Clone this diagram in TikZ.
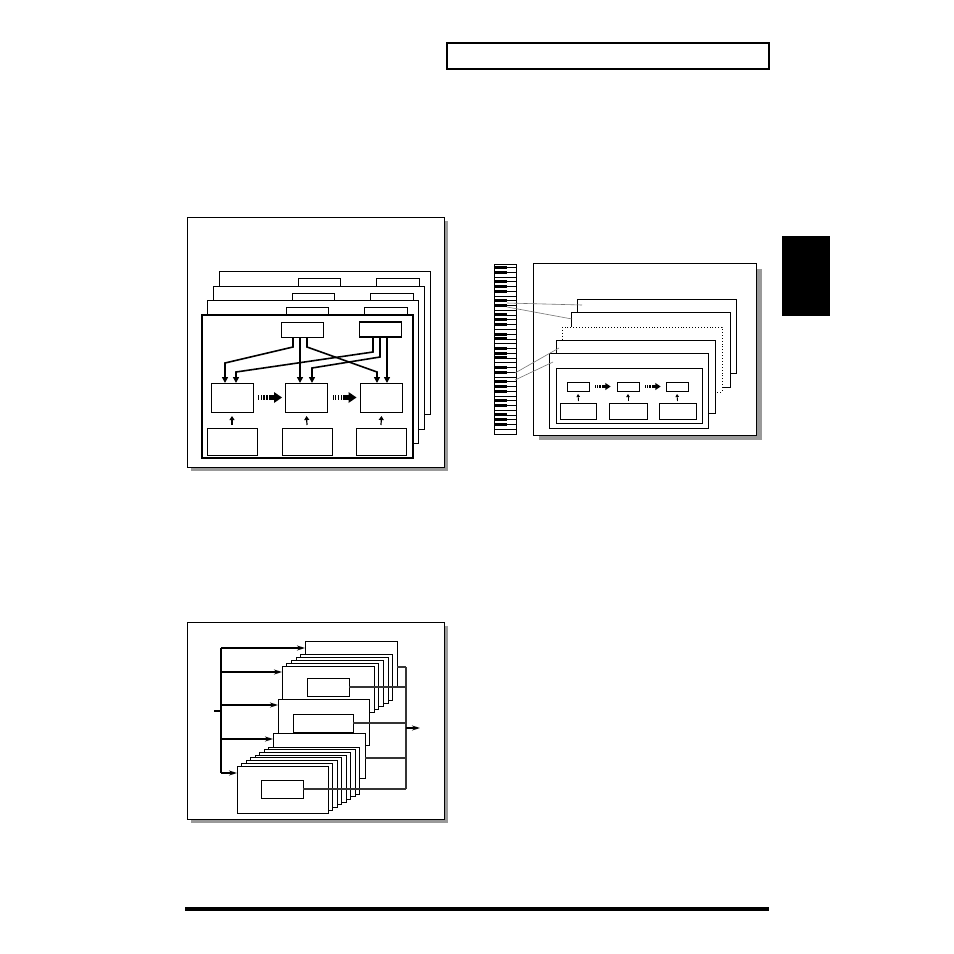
\documentclass[tikz,border=0pt]{standalone}
\usetikzlibrary{calc,arrows.meta}

\begin{document}
\begin{tikzpicture}[x=1pt,y=-1pt,>=stealth,
  frame/.style={draw,line width=0.9pt,fill=white},
  shade/.style={fill=black!40},
  blk/.style={draw,fill=white,line width=0.9pt,inner sep=0pt,outer sep=0pt},
  feed/.style={line width=1.6pt,-{Triangle[length=6pt,width=6pt]}},
  push/.style={line width=1.8pt,-{Stealth[length=8pt,width=5pt]}},
  uparr/.style={line width=1.2pt,-{Triangle[length=4pt,width=5pt]}},
  tick/.style={line width=0.9pt,-{Triangle[length=3pt,width=3.5pt]}},
  bus/.style={line width=1.8pt},
  tap/.style={black!80,line width=1.4pt},
  wire/.style={black!55,line width=0.6pt},
  drop/.style={preaction={fill=black,transform canvas={shift={(1.2pt,-1.2pt)}}}},
  pics/stripe/.style={code={
    \foreach \x/\w in {0/0.7,2.7/1,5.4/1.3,8.1/1.7,10.8/2.2}
      \fill (\x,-2.8) rectangle ++(\w,5.6);
    \fill (13,-2.8) rectangle (16.5,2.8);
    \fill (16,-5.5) -- (24,0) -- (16,5.5) -- cycle;}}]
\useasboundingbox (0,0) rectangle (954,954);

% page marks
\draw[line width=2.4pt] (447,43) rectangle (769,69);
\fill (782,236) rectangle (830,316);
\fill (185,907) rectangle (769,911);

% ---- upper left: stacked layers
\fill[shade] (191,221) rectangle (448,471);
\draw[frame] (187,217) rectangle (444,467);
\foreach \k in {3,2,1}{
  \begin{scope}[shift={({5.7*\k},{-14.5*\k})}]
    \draw[frame] (202,315) rectangle (413,458);
    \draw[frame] (281,322) rectangle (323,337);
    \draw[frame] (359,322) rectangle (402,337);
  \end{scope}}
\draw[frame,line width=1.1pt] (202,315) rectangle (413,458);
\node[blk,minimum width=42,minimum height=15] (s1) at (302,329.5) {};
\node[blk,minimum width=42,minimum height=15,line width=1.3pt] (s2) at (380.5,329.5) {};
\node[blk,minimum width=42,minimum height=29] (A) at (232,397.5) {};
\node[blk,minimum width=42,minimum height=29] (B) at (306.5,397.5) {};
\node[blk,minimum width=42,minimum height=29] (C) at (381.5,397.5) {};
\node[blk,minimum width=50,minimum height=27] (a) at (232,441.5) {};
\node[blk,minimum width=50,minimum height=27] (b) at (307,441.5) {};
\node[blk,minimum width=50,minimum height=27] (c) at (381,441.5) {};
\draw[feed] ($(s1.south)+(-9,0)$) -- ++(0,10) -- ($(A.north)+(-7,-20)$) -- ($(A.north)+(-7,0)$);
\draw[feed] ($(s1.south)+(-2,0)$) -- ($(B.north)+(-6.5,0)$);
\draw[feed] ($(s1.south)+(5,0)$) -- ++(0,10) -- ($(C.north)+(-4.5,-11)$) -- ($(C.north)+(-4.5,0)$);
\draw[feed] ($(s2.south)+(-7.5,0)$) -- ++(0,15) -- ($(A.north)+(4,-11)$) -- ($(A.north)+(4,0)$);
\draw[feed] ($(s2.south)+(-0.5,0)$) -- ++(0,20) -- ($(B.north)+(5.5,-15)$) -- ($(B.north)+(5.5,0)$);
\draw[feed] ($(s2.south)+(6.5,0)$) -- ($(C.north)+(5.5,0)$);
\pic at ($(A.east)+(5,0)$) {stripe};
\pic at ($(B.east)+(5,0)$) {stripe};
\draw[uparr] ($(a.north)+(0,-3)$) -- ($(A.south)+(0,4)$);
\draw[uparr] ($(b.north)+(0,-3)$) -- ($(B.south)+(0,4)$);
\draw[uparr] ($(c.north)+(0,-3)$) -- ($(C.south)+(0,4)$);

% ---- lower left: groups on a bus
\fill[shade] (191,626) rectangle (448,823);
\draw[frame] (187,622) rectangle (444,819);
\node[blk,minimum width=92,minimum height=46,anchor=north west] (g1top) at (305,641) {};
\foreach \k in {4,3,2,1}
  \draw[frame] ({282+4.7*\k},{666-3*\k}) rectangle ++(92,46);
\node[blk,minimum width=92,minimum height=46,anchor=north west] (g1) at (282,666) {};
\node[blk,minimum width=42,minimum height=18,anchor=north west] (g1in) at (307,678) {};
\node[blk,minimum width=91,minimum height=46,anchor=north west] (g2) at (278,699) {};
\node[blk,minimum width=60,minimum height=18,anchor=north west] (g2in) at (293,714) {};
\node[blk,minimum width=92,minimum height=45,anchor=north west] (g3top) at (273,733) {};
\foreach \k in {7,6,...,1}
  \draw[frame] ({237+4.5*\k},{766-2.7*\k}) rectangle ++(91,47);
\node[blk,minimum width=91,minimum height=47,anchor=north west] (g3) at (237,766) {};
\node[blk,minimum width=42,minimum height=18,anchor=north west] (g3in) at (261,780) {};
\coordinate (in) at (214,711);
\coordinate (t1) at (221,648);
\coordinate (t2) at (221,672);
\coordinate (t3) at (221,705);
\coordinate (t4) at (221,739);
\coordinate (t5) at (221,773);
\draw[bus] (t1) -- (t5);
\draw[bus] (in) -- (in -| t1);
\draw[push] (t1) -- (t1 -| g1top.west);
\draw[push] (t2) -- (t2 -| g1.west);
\draw[push] (t3) -- (t3 -| g2.west);
\draw[push] (t4) -- (t4 -| g3top.west);
\draw[push] (t5) -- (t5 -| g3.west);
\coordinate (o1) at (406,667);
\coordinate (o4) at (406,758);
\coordinate (o5) at (406,789);
\coordinate (out) at (406,728);
\draw[tap] (o1 -| g1top.east) -- (o1);
\draw[tap] (g1in.east) -- (g1in.east -| o1);
\draw[tap] (g2in.east) -- (g2in.east -| o1);
\draw[tap] (o4 -| g3top.east) -- (o4);
\draw[tap] (g3in.east) -- (g3in.east -| o1);
\draw[tap] (o1) -- (o5);
\draw[push,line width=1.3pt] (out) -- ++(14,0);

% ---- right: keyboard and layers
\fill[shade] (539,269) rectangle (762,440);
\draw[frame] (533,263) rectangle (756,435);
\draw[frame,line width=0.7pt] (494,264) rectangle (516,434);
\foreach \n in {1,...,35}
  \draw[line width=0.5pt] (494,{262.6+4.76*\n}) -- (516,{262.6+4.76*\n});
\foreach \o in {0,...,4}
  \foreach \k in {1,2,4,5,6}
    \fill (494,{262.6+4.76*(7*\o+\k)-1.5}) rectangle (507,{262.6+4.76*(7*\o+\k)+1.5});
\draw[frame,drop] (577,299) rectangle (736,373);
\draw[frame,drop] (571,312) rectangle (730,387);
\draw[frame,dotted] (562,327) rectangle (722,392);
\draw[frame,drop] (556,340) rectangle (715,413);
\draw[frame,drop] (549,353) rectangle (708,428);
\draw[frame] (556,368) rectangle (702,423);
\node[blk,minimum width=22,minimum height=9] (p1) at (578,386.5) {};
\node[blk,minimum width=22,minimum height=9] (p2) at (628,386.5) {};
\node[blk,minimum width=22,minimum height=9] (p3) at (677,386.5) {};
\node[blk,minimum width=36,minimum height=16] (q1) at (578.5,411) {};
\node[blk,minimum width=38,minimum height=16] (q2) at (628,411) {};
\node[blk,minimum width=37,minimum height=16] (q3) at (677.5,411) {};
\pic[scale=0.65] at ($(p1.east)+(6,0)$) {stripe};
\pic[scale=0.65] at ($(p2.east)+(6,0)$) {stripe};
\draw[tick] ($(q1.north)+(0,-2)$) -- ($(p1.south)+(0,3)$);
\draw[tick] ($(q2.north)+(0,-2)$) -- ($(p2.south)+(0,3)$);
\draw[tick] ($(q3.north)+(0,-2)$) -- ($(p3.south)+(0,3)$);
\coordinate (k1) at (507,303);
\coordinate (k2) at (507,307);
\coordinate (k3) at (515,373);
\coordinate (k4) at (515,380);
\coordinate (e1) at (582,305);
\coordinate (e2) at (572,319);
\coordinate (e3) at (559,348);
\coordinate (e4) at (553,362);
\draw[wire] (k1) -- (e1);
\draw[wire] (k2) -- (e2);
\draw[wire] (k3) -- (e3);
\draw[wire] (k4) -- (e4);
\end{tikzpicture}
\end{document}
